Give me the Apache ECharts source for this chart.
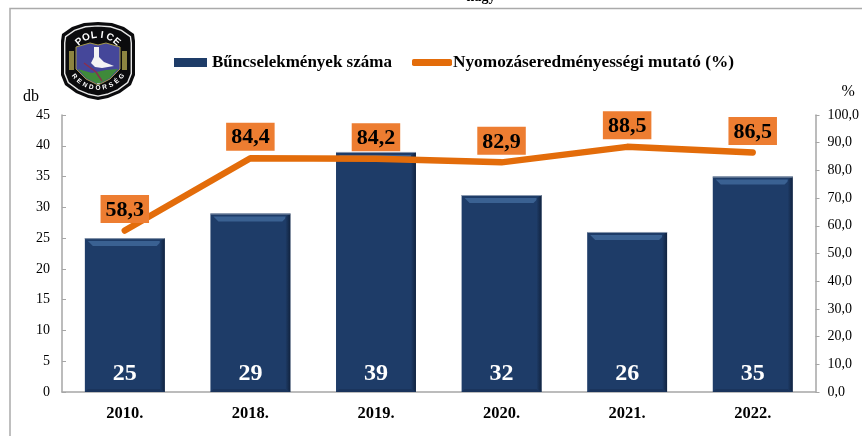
<!DOCTYPE html>
<html>
<head>
<meta charset="utf-8">
<style>
html, body { margin: 0; padding: 0; background: #fff; }
#chart { width: 862px; height: 436px; }
</style>
<script src="https://cdn.jsdelivr.net/npm/echarts@6/dist/echarts.min.js"></script>
</head>
<body>
<div id="chart"></div>
<script>
const years = ["2010.", "2018.", "2019.", "2020.", "2021.", "2022."];
const crimeCounts = [25, 29, 39, 32, 26, 35];
const clearanceRates = [58.3, 84.4, 84.2, 82.9, 88.5, 86.5];
const barName = "Bűncselekmények száma";
const lineName = "Nyomozáseredményességi mutató (%)";

const serif = '"Liberation Serif", "Times New Roman", serif';
const comma = v => v.toFixed(1).replace(".", ",");

// the police badge in the top left corner
function letterRing(text, cx, cy, r, startDeg, stepDeg, size, bottom) {
	return text.split("").map((ch, i) => {
		let deg = startDeg + stepDeg * i;
		let rad = deg * Math.PI / 180;
		return {
			type: "text",
			x: cx + r * Math.cos(rad),
			y: cy + r * Math.sin(rad),
			rotation: bottom ? -(deg - 90) * Math.PI / 180 : -(deg + 90) * Math.PI / 180,
			style: {
				text: ch, fill: "#fff", font: "bold " + size + "px " + '"Liberation Sans", sans-serif',
				align: "center", verticalAlign: "middle"
			}
		};
	});
}
function shieldPoints(k) {
	return [[0, -39], [14, -38], [26, -34], [36, -27], [37, -20], [37, 14], [33, 24], [22, 32], [10, 37], [0, 39], [-10, 37], [-22, 32], [-33, 24], [-37, 14], [-37, -20], [-36, -27], [-26, -34], [-14, -38]]
		.map(p => [p[0] * k, p[1] * k]);
}
const badge = {
	type: "group",
	x: 98,
	y: 61,
	children: [
		{ type: "polygon", shape: { points: shieldPoints(1) }, style: { fill: "#0b0b0d" } },
		{ type: "polygon", shape: { points: shieldPoints(0.9) }, style: { fill: "none", stroke: "#e8e8e8", lineWidth: 1.4 } },
		{ type: "rect", shape: { x: -29, y: -10, width: 5, height: 19 }, style: { fill: "#8d8440" } },
		{ type: "rect", shape: { x: 24, y: -10, width: 5, height: 19 }, style: { fill: "#8d8440" } },
		{ type: "polygon", shape: { points: [[-22, -14], [-8, -18], [0, -16], [8, -18], [22, -14], [22, 8], [12, 18], [0, 24], [-12, 18], [-22, 8]] }, style: { fill: "#45479a", stroke: "#a59a4c", lineWidth: 1 } },
		{ type: "polygon", shape: { points: [[-20, 8], [-6, 12], [8, 9], [20, 8], [12, 17], [0, 23], [-12, 17]] }, style: { fill: "#3f8a3a" } },
		{ type: "polyline", shape: { points: [[-14, 2], [-2, 11], [4, 20]] }, style: { stroke: "#8a2f4e", lineWidth: 1.5, fill: "none" } },
		{ type: "polygon", shape: { points: [[-4, -14], [1, -14], [1, -4], [6, 1], [16, 5], [4, 7], [-3, 6], [-7, 2], [-4, -4]] }, style: { fill: "#f4f4f4" } }
	].concat(letterRing("POLICE", 0, 3, 29, -130, 16, 10, false))
		.concat(letterRing("RENDŐRSÉG", 0, -3, 30, 142, -13, 6.5, true))
};

let chart = echarts.init(document.getElementById("chart"), null, { renderer: "canvas" });

function renderBevel(params, api) {
	let i = api.value(0);
	let top = api.coord([i, api.value(1)]);
	let base = api.coord([i, 0]);
	let w = api.size([1, 0])[0] * 0.636;
	let l = top[0] - w / 2;
	let r = top[0] + w / 2;
	let t = top[1];
	let b = base[1];
	return {
		type: "group",
		children: [
			{ type: "polygon", shape: { points: [[l + 3, t + 3], [r - 3, t + 3], [r - 8, t + 8], [l + 8, t + 8]] }, style: { fill: "#3a6192" } },
			{
				type: "polygon",
				shape: { points: [[r, t], [r, b], [r - 5, b - 3], [r - 5, t + 3]] },
				style: {
					fill: new echarts.graphic.LinearGradient(0, 0, 1, 0, [
						{ offset: 0, color: "#1e3c68" },
						{ offset: 1, color: "#11233f" }
					])
				}
			},
			{ type: "polygon", shape: { points: [[l, b], [r, b], [r - 5, b - 3], [l + 3, b - 3]] }, style: { fill: "#1a345c" } },
			{ type: "line", shape: { x1: l, y1: t + 0.5, x2: r, y2: t + 0.5 }, style: { stroke: "#8d9bb0", lineWidth: 1 } }
		]
	};
}

let option = {
	animation: false,
	backgroundColor: "#fff",
	textStyle: { fontFamily: serif },
	grid: { left: 62, right: 45, top: 115, bottom: 44, containLabel: false },
	legend: [
		{
			data: [{ name: barName, icon: "rect" }],
			left: 169,
			top: 49,
			itemWidth: 33,
			itemHeight: 9,
			textStyle: { fontFamily: serif, fontWeight: "bold", fontSize: 17, color: "#000" }
		},
		{
			data: [{ name: lineName, icon: "roundRect" }],
			left: 407,
			top: 49,
			itemWidth: 40,
			itemHeight: 7,
			itemGap: 0,
			textStyle: { fontFamily: serif, fontWeight: "bold", fontSize: 17.3, color: "#000", padding: [0, 0, 0, -4] }
		}
	],
	xAxis: [
		{
			type: "category",
			data: years,
			axisLine: { lineStyle: { color: "#a6a6a6", width: 1.5 } },
			axisTick: { show: false },
			axisLabel: { color: "#000", fontFamily: serif, fontWeight: "bold", fontSize: 16.5, margin: 13 }
		}
	],
	yAxis: [
		{
			type: "value",
			name: "db",
			nameLocation: "end",
			nameGap: 10,
			nameTextStyle: { color: "#000", fontFamily: serif, fontSize: 16, align: "right", padding: [0, 23, 0, 0] },
			min: 0,
			max: 45,
			interval: 5,
			splitLine: { show: false },
			axisLine: { show: true, lineStyle: { color: "#a6a6a6", width: 1.5 } },
			axisTick: { show: true, inside: true, length: 4, lineStyle: { color: "#a6a6a6" } },
			axisLabel: { color: "#000", fontFamily: serif, fontSize: 14, margin: 12 }
		},
		{
			type: "value",
			name: "%",
			nameLocation: "end",
			nameGap: 15,
			nameTextStyle: { color: "#000", fontFamily: serif, fontSize: 16, align: "left", padding: [0, 0, 0, 26] },
			min: 0,
			max: 100,
			interval: 10,
			splitLine: { show: false },
			axisLine: { show: true, lineStyle: { color: "#a6a6a6", width: 1.5 } },
			axisTick: { show: true, length: 4, lineStyle: { color: "#a6a6a6" } },
			axisLabel: { color: "#000", fontFamily: serif, fontSize: 14, margin: 12, formatter: comma }
		}
	],
	series: [
		{
			name: barName,
			type: "bar",
			data: crimeCounts,
			barWidth: "63.6%",
			z: 1,
			itemStyle: { color: "#1e3c68" },
			label: {
				show: true,
				position: "insideBottom",
				distance: 6,
				color: "#fff",
				fontFamily: serif,
				fontWeight: "bold",
				fontSize: 24
			}
		},
		{
			name: "bevel",
			type: "custom",
			data: crimeCounts.map((v, i) => [i, v]),
			renderItem: renderBevel,
			encode: { x: 0, y: 1 },
			silent: true,
			z: 2
		},
		{
			name: lineName,
			type: "line",
			yAxisIndex: 1,
			data: clearanceRates,
			symbol: "circle",
			symbolSize: 1,
			showSymbol: true,
			z: 5,
			lineStyle: { color: "#e36c0a", width: 6.5, cap: "round", join: "round" },
			itemStyle: { color: "#e36c0a" },
			label: {
				show: true,
				position: "top",
				distance: 7,
				formatter: p => comma(p.value),
				color: "#000",
				fontFamily: serif,
				fontWeight: "bold",
				fontSize: 22,
				backgroundColor: "#ed7d31",
				padding: [4, 5, 2, 5]
			}
		}
	],
	graphic: [
		{ type: "polyline", shape: { points: [[10, 436], [10, 8.5], [862, 8.5]] }, style: { stroke: "#aaaaaa", lineWidth: 1.5, fill: "none" }, silent: true },
		{ type: "text", x: 481, y: -10, style: { text: "nagy", fill: "#000", font: "bold 14px " + serif, align: "center" }, silent: true },
		badge
	]
};
chart.setOption(option);
</script>
</body>
</html>
